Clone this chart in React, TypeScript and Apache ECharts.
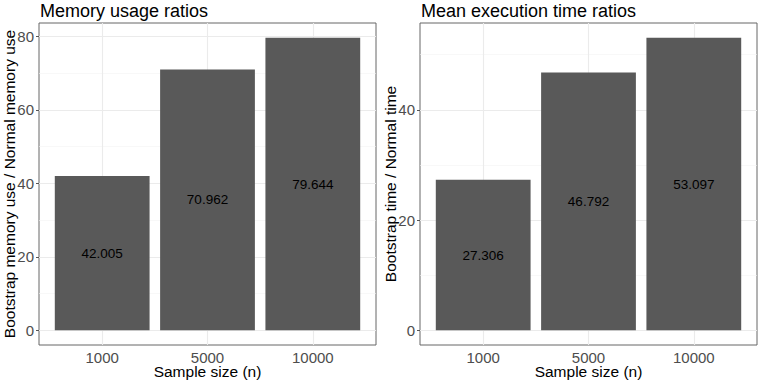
import React, { useEffect, useRef } from "react";
import * as echarts from "echarts";

const categories = ["1000", "5000", "10000"];
const categoryPositions = [1, 2, 3];
const memoryRatios = [42.005, 70.962, 79.644];
const timeRatios = [27.306, 46.792, 53.097];
const memoryMajorTicks = [0, 20, 40, 60, 80];
const memoryMinorTicks = [10, 30, 50, 70];
const timeMajorTicks = [0, 20, 40];
const timeMinorTicks = [10, 30, 50];

const FONT = "Liberation Sans, Arial, sans-serif";

function panel(idx: number, values: number[], major: number[], minor: number[], yName: string) {
  const maxV = Math.max(...values);
  const yAxis = {
    type: "value",
    gridIndex: idx,
    min: -0.05 * maxV,
    max: 1.05 * maxV,
    name: yName,
    nameLocation: "middle",
    nameGap: 22,
    nameMoveOverlap: false,
    nameTextStyle: { fontFamily: FONT, fontSize: 15.5, color: "#000" },
    axisLine: { show: false },
    axisTick: { show: true, length: 3, lineStyle: { color: "#555", width: 1 }, customValues: major },
    axisLabel: { fontFamily: FONT, fontSize: 15, color: "#4D4D4D", margin: 5, customValues: major },
    splitLine: { show: false },
  };
  const xAxis = {
    type: "value",
    gridIndex: idx,
    min: 0.4,
    max: 3.6,
    name: "Sample size (n)",
    nameLocation: "middle",
    nameGap: 18.5,
    nameMoveOverlap: false,
    nameTextStyle: { fontFamily: FONT, fontSize: 15.5, color: "#000", lineHeight: 15 },
    axisLine: { show: false },
    axisTick: { show: true, length: 3, lineStyle: { color: "#555", width: 1 }, customValues: categoryPositions },
    axisLabel: {
      fontFamily: FONT,
      fontSize: 15,
      lineHeight: 13,
      color: "#4D4D4D",
      margin: 6,
      customValues: categoryPositions,
      formatter: (v: number) => categories[Math.round(v) - 1] ?? "",
    },
    splitLine: { show: false },
  };
  const gridData: any[] = [];
  major.forEach((v) => gridData.push({ yAxis: v, lineStyle: { color: "#EBEBEB", width: 1.1 } }));
  minor.forEach((v) => gridData.push({ yAxis: v, lineStyle: { color: "#F3F3F3", width: 0.6 } }));
  categoryPositions.forEach((v) => gridData.push({ xAxis: v, lineStyle: { color: "#EBEBEB", width: 1.1 } }));
  const series = [
    {
      type: "line",
      xAxisIndex: idx,
      yAxisIndex: idx,
      data: [],
      z: 1,
      silent: true,
      markLine: {
        silent: true,
        symbol: "none",
        label: { show: false },
        lineStyle: { type: "solid" },
        z: 1,
        data: gridData,
      },
    },
    {
      type: "bar",
      xAxisIndex: idx,
      yAxisIndex: idx,
      z: 3,
      barWidth: "90%",
      itemStyle: { color: "#595959" },
      label: {
        show: true,
        position: "inside",
        fontFamily: FONT,
        fontSize: 13.5,
        color: "#000",
        formatter: (p: any) => Number(p.value[1]).toFixed(3),
      },
      data: values.map((v, i) => [categoryPositions[i], v]),
    },
  ];
  return { xAxis, yAxis, series };
}

export default function App() {
  const ref = useRef<HTMLDivElement>(null);
  useEffect(() => {
    if (!ref.current) return;
    const chart = echarts.init(ref.current, undefined, { renderer: "svg" });
    const p1 = panel(0, memoryRatios, memoryMajorTicks, memoryMinorTicks, "Bootstrap memory use / Normal memory use");
    const p2 = panel(1, timeRatios, timeMajorTicks, timeMinorTicks, "Bootstrap time / Normal time");
    chart.setOption({
      animation: false,
      backgroundColor: "#fff",
      title: [
        { text: "Memory usage ratios", left: 40, top: 2, padding: 0, textStyle: { fontFamily: FONT, fontSize: 18, fontWeight: "normal", color: "#000" } },
        { text: "Mean execution time ratios", left: 421, top: 2, padding: 0, textStyle: { fontFamily: FONT, fontSize: 18, fontWeight: "normal", color: "#000" } },
      ],
      grid: [
        { left: 39, top: 23, width: 337, height: 322, show: true, borderColor: "#666", borderWidth: 1, backgroundColor: "transparent", containLabel: false, outerBoundsMode: "none" },
        { left: 420, top: 23, width: 337, height: 322, show: true, borderColor: "#666", borderWidth: 1, backgroundColor: "transparent", containLabel: false, outerBoundsMode: "none" },
      ],
      xAxis: [p1.xAxis, p2.xAxis],
      yAxis: [p1.yAxis, p2.yAxis],
      series: [...p1.series, ...p2.series],
    });
    return () => chart.dispose();
  }, []);
  return <div ref={ref} style={{ position: "absolute", left: 0, top: 0, width: 761, height: 381 }} />;
}
